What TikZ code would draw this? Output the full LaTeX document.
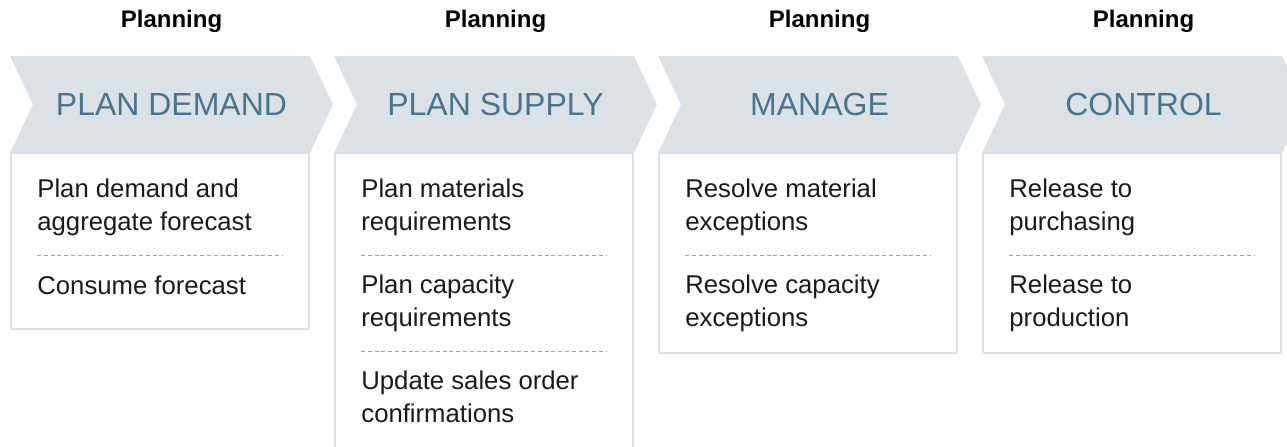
\documentclass[tikz,border=0pt]{standalone}
\usepackage{fontspec}
\setmainfont{Liberation Sans}
\usetikzlibrary{positioning}
\definecolor{chevgray}{HTML}{DCE1E6}
\definecolor{titleblue}{HTML}{48758F}
\definecolor{dashgray}{HTML}{A0A0A0}
\definecolor{textblack}{HTML}{1A1A1A}

\begin{document}
\begin{tikzpicture}[x=0.5pt,y=-0.5pt,
  head/.style={font=\bfseries\fontsize{12}{14}\selectfont,inner sep=0pt},
  phase/.style={text=titleblue,font=\fontsize{16}{19}\selectfont,inner sep=0pt},
  task/.style={anchor=base west,align=left,inner sep=0pt,text=textblack,
    font=\fontsize{12.85}{16.5}\selectfont},
  stepbox/.style={draw=chevgray,line width=1pt,fill=white},
  chev/.style={fill=chevgray},
  sep/.style={draw=dashgray,line width=0.5pt,dash pattern=on 2pt off 1.4pt}]
  \useasboundingbox (0,0) rectangle (1287,446);
  \clip (0,0) rectangle (1287,446);
  % chevrons
  \fill[chev] (10,56) -- (310,56) -- (333,104.5) -- (310,153) -- (10,153) -- (33,104.5) -- cycle;
  \fill[chev] (334,56) -- (634,56) -- (657,104.5) -- (634,153) -- (334,153) -- (357,104.5) -- cycle;
  \fill[chev] (658,56) -- (958,56) -- (981,104.5) -- (958,153) -- (658,153) -- (681,104.5) -- cycle;
  \fill[chev] (982,56) -- (1282,56) -- (1305,104.5) -- (1282,153) -- (982,153) -- (1005,104.5) -- cycle;
  \draw(171.5,21) node[head] (H1) {Planning};
  \draw(495.5,21) node[head] (H2) {Planning};
  \draw(819.5,21) node[head] (H3) {Planning};
  \draw(1143.5,21) node[head] (H4) {Planning};
  \draw(171.5,104.5) node[phase] (P1) {PLAN DEMAND};
  \draw(495.5,104.5) node[phase] (P2) {PLAN SUPPLY};
  \draw(819.5,104.5) node[phase] (P3) {MANAGE};
  \draw(1143.5,104.5) node[phase] (P4) {CONTROL};
  % boxes
  \draw[stepbox] (11,153) rectangle (309,329);
  \draw[stepbox] (335,153) rectangle (633,470);
  \draw[stepbox] (659,153) rectangle (957,353);
  \draw[stepbox] (983,153) rectangle (1281,353);
  % plan demand (base = last line)
  \draw(37,230) node[task] (A1) {Plan demand and\\aggregate forecast};
  \draw[sep] (37,255) -- (283,255);
  \draw(37,294) node[task] (A2) {Consume forecast};
  % plan supply
  \draw(361,230) node[task] (B1) {Plan materials\\requirements};
  \draw[sep] (361,255) -- (607,255);
  \draw(361,326) node[task] (B2) {Plan capacity\\requirements};
  \draw[sep] (361,351) -- (607,351);
  \draw(361,422) node[task] (B3) {Update sales order\\confirmations};
  % manage
  \draw(685,230) node[task] (C1) {Resolve material\\exceptions};
  \draw[sep] (685,255) -- (931,255);
  \draw(685,326) node[task] (C2) {Resolve capacity\\exceptions};
  % control
  \draw(1009,230) node[task] (D1) {Release to\\purchasing};
  \draw[sep] (1009,255) -- (1255,255);
  \draw(1009,326) node[task] (D2) {Release to\\production};
\end{tikzpicture}
\end{document}
